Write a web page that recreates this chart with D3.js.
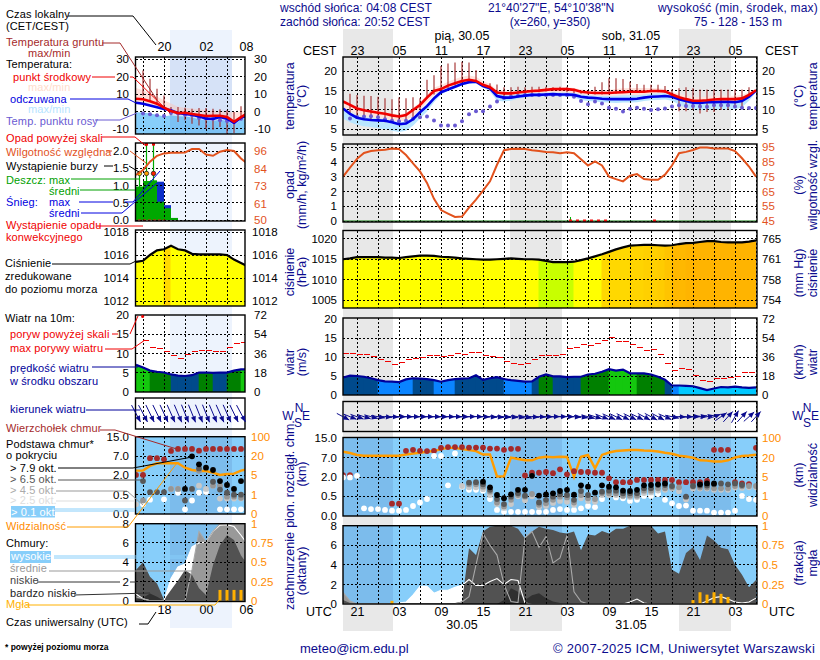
<!DOCTYPE html>
<html><head><meta charset="utf-8"><script src="https://cdn.jsdelivr.net/npm/d3@7"></script>
<style>html,body{margin:0;padding:0;background:#fff}svg{display:block}text{font-family:"Liberation Sans",Arial,sans-serif;font-size:11px}</style></head>
<body><svg id="c" width="820" height="660"></svg>
<script>
// ---------- hours / labels
const mainHourLabelsCEST=["23","05","11","17","23","05","11","17","23","05"];
const mainHourLabelsUTC=["21","03","09","15","21","03","09","15","21","03"];
const mainLabelHours=[2,8,14,20,26,32,38,44,50,56];
const leftHourLabelsCEST=["20","02","08"];
const leftHourLabelsUTC=["18","00","06"];
const leftLabelHours=[4,10,15.7];
// ---------- main panel: temperature
const tempMid=[12.2,11.3,10.4,9.9,9.6,9.3,9.0,8.6,8.3,8.7,
10.0,11.3,13.2,14.9,15.4,16.3,16.9,17.5,17.8,17.5,
16.5,15.9,14.5,14.3,14.3,14.5,14.7,14.9,15.0,15.2,
15.4,15.4,15.4,15.2,14.7,14.5,14.4,14.4,14.4,14.5,
14.6,14.7,14.7,14.7,14.9,14.9,14.8,14.0,13.3,12.8,
12.4,12.4,12.5,12.7,12.8,12.8,12.8,13.0,13.9,15.1];
const tempMidHi=[12.6,11.8,10.9,10.4,10.1,9.8,9.5,9.1,8.8,9.2,
10.6,11.9,14.0,15.8,16.4,17.3,18.0,18.6,18.9,18.6,
17.5,16.7,15.2,14.9,14.9,15.0,15.2,15.4,15.5,15.7,
15.9,15.9,15.9,15.7,15.3,15.1,15.0,15.0,15.2,15.4,
15.6,15.7,15.7,15.7,15.6,15.6,15.4,14.7,14.1,13.7,
13.3,13.3,13.4,13.6,13.7,13.7,13.7,13.9,14.6,15.4];
const tempMidLo=[10.8,9.8,9.0,8.6,8.3,8.0,7.7,7.3,7.0,7.3,
8.5,10.0,12.0,13.8,14.9,15.6,16.2,16.9,17.3,17.2,
16.0,15.2,13.8,13.5,13.4,13.7,13.9,14.1,14.1,14.2,
14.3,14.2,14.2,14.1,13.6,13.4,13.2,13.0,13.0,13.0,
13.0,13.0,13.1,13.4,13.6,13.7,13.8,13.5,12.6,11.8,
11.2,11.2,11.4,11.5,11.6,11.6,11.5,11.8,13.0,14.8];
const tempFeel=[10.4,9.0,8.0,7.6,7.4,7.3,7.2,6.8,6.3,6.5,
7.6,9.4,11.0,13.0,14.6,15.3,16.0,16.7,17.2,17.3,
16.2,15.6,13.6,13.2,13.2,13.5,13.7,13.9,13.9,14.0,
14.1,14.0,14.0,13.9,13.4,13.2,13.1,12.9,12.8,12.8,
12.8,12.8,12.9,13.2,13.4,13.5,13.6,13.4,12.8,12.3,
11.9,11.8,12.0,12.0,12.1,12.1,12.0,12.3,13.4,15.0];
const tempFeelHi=[10.9,9.4,8.4,8.1,7.9,7.8,7.6,7.3,6.8,7.0,
8.1,10.0,11.6,13.6,15.0,15.7,16.4,17.1,17.6,17.7,
16.7,16.2,14.2,13.8,13.8,14.1,14.3,14.4,14.4,14.5,
14.6,14.5,14.5,14.4,14.0,13.8,13.7,13.6,13.6,13.7,
13.8,13.8,13.8,14.0,14.2,14.3,14.3,14.0,13.3,12.8,
12.3,12.2,12.4,12.4,12.5,12.5,12.4,12.7,13.8,15.2];
const tempFeelLo=[7.8,6.8,6.2,5.8,5.6,5.3,5.0,4.6,4.3,4.6,
5.9,7.8,9.6,12.0,14.0,14.9,15.6,16.3,16.8,16.9,
15.8,14.8,12.4,12.2,12.4,12.9,13.2,13.5,13.4,13.5,
13.6,13.5,13.4,13.2,12.6,12.3,12.2,12.0,11.9,11.8,
11.9,11.9,12.0,12.3,12.5,12.6,12.7,12.4,11.4,10.5,
10.0,9.9,10.0,10.0,10.1,10.2,10.2,10.7,12.4,14.6];
const groundMax=[null,14.2,13.9,13.7,13.6,13.4,13.0,12.8,13.2,13.0,
13.3,13.0,17.8,19.0,21.4,22.0,22.3,22.5,22.3,20.3,
16.9,16.9,16.6,15.9,15.9,16.0,15.9,16.0,16.0,16.0,
15.9,16.0,16.0,15.5,15.0,15.0,16.0,17.2,18.2,18.2,
18.0,17.3,16.7,16.5,16.5,16.5,16.2,15.3,15.6,15.9,
15.6,15.3,15.3,15.3,15.3,15.3,15.3,15.3,15.9,null];
const groundMin=[null,8.7,8.3,7.5,7.5,7.2,6.8,6.6,6.5,7.0,
8.0,10.0,13.0,14.0,14.8,15.6,16.4,17.0,17.4,17.0,
16.0,15.0,14.0,13.6,13.6,14.0,14.2,14.4,14.6,14.8,
15.0,15.0,14.6,14.4,14.2,14.0,14.0,14.0,14.0,14.2,
14.4,14.4,14.4,14.4,14.6,14.6,14.4,13.0,9.7,9.7,
10.0,9.1,9.5,9.5,10.0,10.2,10.9,11.0,14.0,null];
const dewPoint=[null,7.8,8.2,8.3,8.4,8.1,7.6,7.2,7.1,7.2,
7.7,8.1,8.3,7.3,6.0,6.0,6.0,7.1,8.9,9.7,
9.7,10.9,12.2,13.1,13.5,13.7,13.9,13.9,13.9,13.9,
13.9,13.9,13.9,13.4,12.3,11.5,12.2,11.7,10.6,10.3,
9.6,10.3,10.6,10.3,10.0,10.2,10.4,10.9,11.2,11.0,
11.0,10.9,10.8,11.2,11.2,11.2,10.9,10.6,10.5,10.5];
// ---------- main panel: rain + humidity
const humidity=[75,81,87,91,92.3,92.8,93.2,93.9,93.7,89.6,
84,78.5,70.7,60,52.4,50,47.7,48,54,59.5,
65.5,71.8,83,92.8,93.7,93.9,93.7,92.8,92.3,91.6,
91.4,90.8,91.4,90.8,86.7,82.5,85.2,82.5,75,73.3,
71.8,75.6,76.7,73.3,72.9,72.9,76.3,82.5,90.8,91.7,
93,94.6,94.6,94,94,94,92.3,87.4,81.8,75];
const convectiveHours=[32,33,34,35,36,37,44];
const rainTraceHours=[32];
// ---------- main panel: pressure
const pressure=[1015,1015.2,1015.5,1015.5,1015.5,1015.5,1015.4,1015.4,1015.3,1015.5,
1015.7,1015.9,1015.9,1015.8,1015.6,1015.5,1015.4,1015.2,1015.1,1015,
1014.9,1014.9,1015,1015.1,1015.2,1015.1,1015,1015,1014.9,1014.6,
1014.3,1014.3,1014.3,1014.4,1014.8,1015.2,1015.7,1016.2,1016.8,1017.4,
1017.9,1018.3,1018.4,1018.5,1018.5,1018.4,1018.3,1018.4,1018.7,1018.9,
1019,1019.2,1019.4,1019.4,1019.2,1019.1,1019.1,1019.1,1019.3,1019.6];
const pressureFill=["#ffff00","#ffff00","#ffff00","#ffff00","#ffff00","#ffff00","#ffff00","#ffff00","#ffff00","#ffff00",
"#ffff00","#ffff00","#ffff00","#ffff00","#ffff00","#ffff00","#ffff00","#ffff00","#ffff00","#ffff00",
"#ffff00","#ffff00","#ffff00","#ffff00","#ffff00","#ffff00","#ffff00","#ffff00","#c8ff00","#c8ff00",
"#c8ff00","#c8ff00","#c8ff00","#ffff00","#ffff00","#ffff00","#ffff00","#ffd800","#ffd800","#ffd800",
"#ffd800","#ffd400","#ffd400","#ffd000","#ffd000","#ffcc00","#ffc400","#ffb800","#ffb800","#ffb400",
"#ffb400","#ffb400","#ffb400","#ffb400","#ffb400","#ffb400","#ffb400","#ffb400","#ffb400","#ffb400"];
// ---------- main panel: wind
const windSpeed=[4.6,5.1,5,4.8,4.4,3.9,3.6,3.5,3.4,4.1,
4.4,4.3,4.2,3.9,3.5,3.9,4.2,4.3,4.4,5.2,
4,4.4,4.7,4.2,3.9,3.7,3.5,3.6,4.8,5.4,
4.9,4.9,4.7,4.8,4.8,5.4,5.6,6.1,6.8,6.4,
6.7,5.7,5.7,5.7,5.4,4.8,4,2.5,2.5,2.4,
2.3,1.8,1.3,1.7,2.1,2,2.2,2,1.9,2];
const windGust=[11,11,10.7,10.7,10.2,9.4,8.8,8.1,8.6,9.4,
9.6,10,10.4,10.4,10.2,10.4,11,10.7,11.2,11.2,
10.4,10.2,9.9,8.9,8.4,8.1,8.4,9.4,10.4,10.4,
10.4,10.7,12.3,12.5,13.3,13,13.6,14.4,15.1,14.1,
14.1,13.3,12.5,11.8,12,10.7,8.4,6.5,7,6.8,
5.2,3.9,3.6,4.4,4.4,4.6,4.9,6,6,null];
const windClass=[1,1,1,1,1,2,2,2,2,2,
1,1,1,2,2,2,1,1,1,1,1,1,1,2,2,2,2,1,3,3,
1,1,1,1,3,3,3,3,4,4,
4,4,3,3,3,3,1,2,5,5,
5,5,5,5,5,5,5,5,5,5];
const windToDeg=[118,112,110,108,105,100,95,92,90,90,
90,90,90,90,90,90,90,90,88,90,
92,95,96,97,98,100,102,95,92,90,
88,88,90,95,100,104,108,112,114,116,
116,116,116,118,118,118,114,102,92,90,
86,82,78,70,55,42,30,42,48,42];
// ---------- main panel: cloud base (km)
const cloudTop=[2.5,2.5,null,null,null,null,null,0.31,0.31,9.8,
10.2,9.8,9.7,9.8,11,11.3,11.3,11.3,11.1,11.1,
11.1,10.7,10.7,10.2,10.6,10.6,2.4,3.1,3.1,3.3,
3,4,2.7,3.5,3.3,3.3,3.1,3.1,1.9,1.6,
1.6,1.6,1.77,1.77,1.77,1.77,1.77,1.77,1.6,1.6,
1.6,1.6,1.7,10.2,10.2,10.2,1.6,1.5,1.45,11];
const base79=[null,null,null,null,null,null,null,null,null,null,
null,null,null,null,null,null,null,null,null,null,
1.64,1.2,0.6,0.45,0.65,1,1,2.3,0.55,0.65,
0.73,0.91,1,0.63,1.35,1.25,0.78,1.35,1.25,1.2,
0.94,0.91,1,1.35,1.38,1.43,1.5,null,null,null,
null,1.43,1.5,1.5,null,null,null,null,null,null];
const base65=[null,null,null,null,null,null,null,null,null,null,
null,null,null,null,null,null,null,null,1.57,1.6,
1.43,1,0.43,0.3,0.49,0.73,0.55,null,0.34,0.41,
0.49,0.65,0.6,0.41,0.91,0.6,null,0.86,0.94,0.94,
0.73,0.73,0.73,1.12,1.12,1.38,1.38,1.3,null,0.49,
1.3,1.33,1.33,1.43,1.5,1.43,1.5,1.38,null,null];
const base45=[null,null,null,null,null,null,null,null,null,null,
null,null,null,null,null,null,null,null,1.43,1.43,
1.25,0.86,0.34,0.24,0.41,0.6,0.49,0.68,0.28,0.32,
0.41,0.49,0.47,0.34,0.6,0.45,0.43,0.73,0.73,0.73,
0.55,0.55,0.55,0.94,0.94,1.12,1.12,1.18,1.2,null,
1.25,1.18,1.18,1.12,1.12,1.12,1.3,1.28,1.3,1.3];
const base25=[null,null,null,null,null,null,null,null,null,null,
null,null,null,null,null,null,null,1.3,1.2,1.2,
1.05,0.6,0.3,0.2,0.3,0.5,0.4,0.5,0.22,0.25,
0.33,0.38,0.36,0.28,0.45,0.38,0.36,0.6,0.6,0.6,
0.5,0.48,0.48,0.75,0.8,0.95,1,1.1,0.9,0.42,
1.1,1.1,1.1,1,1,1,1.18,1.15,1.2,1.2];
const base01=[1.97,1.97,2.3,0.19,0.17,0.17,0.15,0.13,0.13,0.15,
0.25,0.34,0.43,7.7,7.7,1.35,8.7,1.25,1,1,
0.94,0.43,0.15,0.1,0.1,0.1,0.1,0.1,0.1,0.1,
0.15,0.17,0.15,0.15,0.19,0.25,0.22,0.43,0.73,0.47,
0.45,0.38,0.41,0.53,0.53,0.68,0.41,0.32,0.25,0.26,
0.13,0.13,0.13,0.08,0.08,0.08,0.13,0.53,0.43,0.41];
const visibility=[44,39,31,28,28,28,28,28,28,33,
37,40,44,47,55,60,60,55,51,47,
33,33,5.4,5.6,20.5,19,18,18,20,24,
22,24,23,5.1,24,31,11.7,31,41,47,
49,51,51,49,48,45,40,36,28,25,
20,18,17.7,17,17,18,21,27,29,32];
// ---------- main panel: clouds (oktas), fog (fraction)
const cloudHigh=[0,0,0,0,0,0,0,0,0.1,0.2,
0.9,1.8,1.8,1.1,1.4,1.4,1.7,1.9,2.5,1.9,
1.9,2.3,2.6,2,2.5,2.4,0.1,0,0,0,
0,0,0,0,0,0,0,0,0,0,
0,0.2,0.5,0.1,0,0,0,0,0,0,
0,0,0.3,0.65,0.75,0.5,0.2,0.1,0.2,0.6];
const cloudMid=[1.2,0.3,0,0,0,0,0,0,0,0,
0,0,0,0,0,0,0,0.2,0.75,4,
7.2,6,5,2,0.25,0.15,6.8,7.4,5.8,6.9,
4.2,4.7,7,1.25,0.25,0,0,0,0,0,
0,0,0,0,0,0,0,0,0,0,
0,0,0,0,0,0,0,0,0,0];
const cloudLow=[0.4,0.1,0.1,0.1,0.1,0.1,0.1,0.1,0.1,0.1,
0.1,0.1,0.1,0.1,0.1,0.1,0.1,0.25,5.7,5,
7.4,7.9,8,8,8,7.7,6.7,7.4,7.9,7.7,
7.55,7.3,7.2,7.4,5.5,7.1,7,7.45,7.2,7.7,
7.7,8,8,8,8,7.2,7.4,3.5,3.1,5.2,
5.8,4.5,7,6.5,5.75,5.6,4,3,1.7,2.45];
const cloudVeryLow=[0,0,0,0,0,0,0,0,0,0,
0,0,0,0,0,0,0,0,0,0,
0,0,0,0.4,1.6,1.25,0.4,0.9,1.1,0.6,
0.25,0.1,0,0,0,0,0,0,0,0,
0,0,0,0,0,0,0,0,0,0,
0,0,0,0,0,0,0,0,0,0];
const fog=[0,0,0,0,0,0,0,0.04,0,0,
0,0,0,0,0,0,0,0,0,0,
0,0,0,0,0,0,0,0,0,0,
0,0,0,0,0,0,0,0,0,0,
0,0,0,0,0,0,0,0,0,0,
0.05,0.15,0.12,0.15,0.13,0.09,0,0,0,0];
// ---------- left panel
const lTempMid=[7.3,7,5.8,4.4,2.1,0.2,-1,-0.8,-1.5,-2.1,-2.7,-2.5,-2.5,-3.3,-6,-3.3,-1];
const lTempFeel=[5,4.4,3.4,2.4,1.3,0.6,-1,-1.5,-1.9,-2.9,-4.2,-4.4,-3.3,-4.2,-6.7,-3.6,-2.7];
const lTempMidHi=[13.5,12.2,10.6,8.6,6.4,4.5,2.7,2.1,1.7,1.2,0.8,0.4,0.2,-0.2,-0.4,-0.2,0.4];
const lTempFeelHi=[-0.5,-0.7,-1.2,-2,-3,-2.2,-2.8,-3,-3.6,-4.5,-5.2,-5.6,-4.8,-5.6,-7.8,-4.8,-3.8];
const lTempFeelLo=[-14,-14,-14,-14,-14,-14,-14,-14,-14,-14,-14,-14,-14,-14,-14,-13,-12];
const lGroundMax=[null,23.6,18.8,13,9.2,2.5,2.5,2.1,1.5,1.9,1.9,1.5,1.2,0.6,-0.4,2.9,null];
const lGroundMin=[null,9.2,6.3,3.5,0.6,-2.3,-6.2,-5.2,-7.1,-8.1,-10,-10.6,-9,-12.9,-12.5,-5.2,null];
const lDew=[null,-1.3,-1.7,-2.3,-2.7,-1,-1.3,-1.9,-2.3,-3.8,-3.8,-4.2,-5.2,-5.6,-6.2,-4.2,null];
const lHumidity=[80,83.3,88.9,92.8,94.4,94.8,94.8,95,97.3,97.3,93.7,92.8,95.5,96.6,96,91,87.3];
const lRain=[0.97,1.13,1.15,0.53,0.34,0.06];
const lSnow=[0,0,0,1.11,0.43,0];
const lRainMaxHours=[0,1,2];
const lRainMax=[1.3,2.2,2.2];
const lThunderColors=["#ffe000","#ffa000","#ff2000"];
const lPressure=[1015.4,1015.5,1016,1016.4,1016.5,1016.8,1016.5,1016.4,1016.1,1016.05,1016.05,1016.05,1016.05,1016,1015.6,1015.3,1015];
const lWind=[7,6.3,5.5,5.2,5,4.5,4.2,4.1,4.3,5,5,4.9,5,5,5.5,5.8,5.8];
const lGust=[null,13.3,11.6,11.2,10.5,9.5,8.7,9.7,10.4,10.7,10.8,10.4,10.4,11.6,12.6,12.9,null];
const lWindClass=[4,4,3,3,3,1,1,1,1,3,3,1,1,3,3,4];
const lWindToDeg=[152,152,154,154,155,156,157,158,158,158,158,157,156,156,154,152];
const lTop=[2.1,2.1,6.5,6.5,6.2,9.2,10,10,10,9.3,10,10,10,10,10,10,10];
const lB79=[null,null,null,null,null,null,null,0.95,7,4.9,4,3.4,1.55,1.25,0.95,1.55,1.9];
const lB65=[null,1.55,0.7,0.7,0.7,null,null,0.35,0.95,3.8,null,1.5,0.9,0.65,0.5,0.5,null];
const lB45=[null,0.35,null,null,null,0.95,0.95,null,null,3.2,null,1.2,1.2,0.45,0.45,0.42,null];
const lB25=[0.25,null,null,null,null,0.95,0.95,null,null,1.2,0.95,1.2,0.4,0.4,0.4,0.4,null];
const lB01=[null,0.25,0.37,null,0.38,null,0.65,0.12,0.35,0.65,0.7,null,0.12,0.12,0.12,0.12,null];
const lVis=[8.7,8.7,12.4,14.5,14.5,14.5,14.5,11,9.2,8.4,8.4,7.1,5.3,6,6.3,8.7,10];
const lHigh=[0.7,0.2,0,0,0,2.3,3.5,3.8,5.6,6,6.1,7.2,7.85,7.9,7.7,6.8,5.8];
const lMid=[0.4,0.2,0,0,0,0,0,0,3.2,7.2,6.1,7.2,8,8,8,8,8];
const lLow=[3.2,4,2.5,1.8,0.1,1.1,2.1,3.2,2.7,1.3,0.6,3.7,5.8,6.8,6.3,4.7,3.7];
const lVeryLow=[0.1,0.3,0.75,0.4,0,0,0,0,0,0,0,0,0,0,0,0,0];
const lFog=[0,0,0,0,0,0,0,0,0,0,0,0,0.14,0.14,0.14,0.14,0];
// ---------- axis ticks
const tempTicks=[20,15,10,5];
const rainTicks=[5,4,3,2,1,0];
const humTicks=[95,85,75,65,55,45];
const pressTicks=[1020,1015,1010,1005];
const pressHgLabels=["765","761","758","754"];
const windTicks=[20,15,10,5,0];
const windKmhLabels=["72","54","36","18","0"];
const baseTicks=[15,7,2,0.5,0];
const baseLabels=["15.0","7.0","2.0","0.5","0.0"];
const visTicks=[100,20,5,1,0];
const visLabels=["100","20","5","1","0"];
const oktaTicks=[8,6,4,2,0];
const fogTicks=[1,0.75,0.5,0.25,0];
const fogLabels=["1","0.75","0.5","0.25","0"];
const lTempTicks=[30,20,10,0,-10];
const lRainTicks=[2,1.5,1,0.5,0];
const lRainLabels=["2.0","1.5","1.0","0.5","0.0"];
const lHumTicks=[96,84,73,61,50];
const lPressTicks=[1018,1016,1014,1012];

const NAVY="#0b0b8e",ORANGE="#ff8c00",HUM="#e2521d",SKY="#87cefa";
const windColors=["","#004a8c","#0a84ff","#008000","#14c80e","#00c8ff"];
const svg=d3.select("#c");
const defs=svg.append("defs");
let clipN=0;
const xMain=d3.scaleLinear().domain([0,59]).range([343,756]);
const xLeft=d3.scaleLinear().domain([0,16]).range([136,248]);
const mainCols={x:xMain,x0:343,x1:757,grid:d3.range(2,60,3)};
const leftCols={x:xLeft,x0:135.5,x1:245,grid:d3.range(1,16,3)};
const idx=a=>a.map((v,i)=>[i,v]);

// backgrounds
[[343,393],[510,562],[679,731]].forEach(([a,b])=>svg.append("rect").attr("x",a).attr("y",29).attr("width",b-a).attr("height",602).attr("fill","#e8e8e8"));
svg.append("rect").attr("x",170).attr("y",30).attr("width",62).attr("height",598).attr("fill","#edf3fd");

function panel(cols,top,bot,yTicks,y){
  const id="clip"+(clipN++);
  defs.append("clipPath").attr("id",id).append("rect").attr("x",cols.x0).attr("y",top).attr("width",cols.x1-cols.x0).attr("height",bot-top);
  const g=svg.append("g");
  const plot=g.append("g").attr("clip-path",`url(#${id})`);
  const p={g,plot,cols,top,bot,y,x:cols.x};
  p.finishBg=()=>{
    const gg=plot.append("g").attr("stroke","#000").attr("stroke-width",1).attr("stroke-dasharray","2,2").attr("shape-rendering","crispEdges");
    gg.selectAll("line.v").data(cols.grid).join("line").attr("class","v").attr("x1",d=>cols.x(d)).attr("x2",d=>cols.x(d)).attr("y1",top).attr("y2",bot);
    if(y) gg.selectAll("line.h").data(yTicks).join("line").attr("class","h").attr("x1",cols.x0).attr("x2",cols.x1).attr("y1",d=>y(d)).attr("y2",d=>y(d));
  };
  p.border=()=>{g.append("rect").attr("x",cols.x0).attr("y",top).attr("width",cols.x1-cols.x0).attr("height",bot-top).attr("fill","none").attr("stroke","#000").attr("stroke-width",1.4);};
  return p;
}
function area(p,hi,lo,fill){
  const a=d3.area().x((d,i)=>p.x(i)).y0((d,i)=>p.y(typeof lo==="number"?lo:lo[i])).y1(d=>p.y(d));
  p.plot.append("path").attr("d",a(hi)).attr("fill",fill);
}
function line(p,arr,col,w){
  const l=d3.line().defined(d=>d!==null).x((d,i)=>p.x(i)).y(d=>p.y(d));
  p.plot.append("path").attr("d",l(arr)).attr("fill","none").attr("stroke",col).attr("stroke-width",w);
}
function dots(p,arr,col,r){
  p.plot.append("g").selectAll("circle").data(idx(arr).filter(d=>d[1]!==null)).join("circle").attr("cx",d=>p.x(d[0])).attr("cy",d=>p.y(d[1])).attr("r",r).attr("fill",col);
}
function vbars(p,hi,lo,col,w){
  p.plot.append("g").selectAll("line").data(idx(hi).filter(d=>d[1]!==null)).join("line").attr("x1",d=>p.x(d[0])).attr("x2",d=>p.x(d[0])).attr("y1",d=>p.y(d[1])).attr("y2",d=>p.y(lo[d[0]])).attr("stroke",col).attr("stroke-width",w);
}
function axisY(scale,vals,labels,x,side,col){
  const ax=(side==="l"?d3.axisLeft(scale):d3.axisRight(scale)).tickValues(vals).tickSize(0).tickPadding(0).tickFormat((d,i)=>labels?labels[i]:d);
  const g=svg.append("g").attr("transform",`translate(${x},0)`).call(ax);
  g.select(".domain").remove();
  g.selectAll("text").attr("fill",col||"#000").style("font-size","11.5px").attr("font-family",null);
}
function axisX(scale,vals,labels,y,col){
  const ax=d3.axisTop(scale).tickValues(vals).tickSize(0).tickPadding(0).tickFormat((d,i)=>labels[i]);
  const g=svg.append("g").attr("transform",`translate(0,${y})`).call(ax);
  g.select(".domain").remove();
  g.selectAll("text").attr("fill",col||"#000").style("font-size","12.5px").attr("font-family",null).attr("dy",0);
}
function txt(s,x,y,col,o={}){
  const t=svg.append("text").attr("x",x).attr("y",y).attr("fill",col||"#000").text(s);
  if(o.anchor)t.attr("text-anchor",o.anchor);
  t.style("font-size",(o.size||11)+"px");
  if(o.ls)t.attr("letter-spacing",o.ls+"px");
  if(o.weight)t.attr("font-weight",o.weight);
  return t;
}
function vtxt(s,x,y,col,size){
  svg.append("text").attr("transform",`translate(${x},${y}) rotate(-90)`).attr("text-anchor","middle").attr("fill",col||NAVY).style("font-size",(size||12.5)+"px").text(s);
}
function lead(pts,col,w){
  svg.append("path").attr("d",d3.line()(pts)).attr("fill","none").attr("stroke",col).attr("stroke-width",w||1);
}

// ---- temperature
function drawTemp(cols,yS,top,bot,ticks,d){
  const p=panel(cols,top,bot,ticks,yS);
  area(p,d.midHi,d.midLo,"#ffe2dc");
  area(p,d.feelHi,d.feelLo,d.feelCol);
  if(d.tint) p.plot.append("rect").attr("x",170).attr("y",top).attr("width",62).attr("height",bot-top).attr("fill","#1050c0").attr("opacity",.1);
  p.finishBg();
  vbars(p,d.gMax,d.gMin,"#a02828",1.1);
  dots(p,d.dew,"#6a5ad2",2);
  line(p,d.feel,"#0000e6",2.6);
  line(p,d.mid,"#f00000",2.6);
  p.border();
}
const yT=d3.scaleLinear().domain([5,20]).range([129.3,71.3]);
drawTemp(mainCols,yT,57,135,tempTicks,{midHi:tempMidHi,midLo:tempMidLo,feelHi:tempFeelHi,feelLo:tempFeelLo,feelCol:"#b9e6ff",gMax:groundMax,gMin:groundMin,dew:dewPoint,feel:tempFeel,mid:tempMid});
axisY(yT,tempTicks,null,337,"l");axisY(yT,tempTicks,null,762,"r");
const yLT=d3.scaleLinear().domain([-10,30]).range([128.7,59.3]);
drawTemp(leftCols,yLT,57,134,lTempTicks,{midHi:lTempMidHi,midLo:lTempFeel,feelHi:lTempFeelHi,feelLo:lTempFeelLo,feelCol:SKY,tint:true,gMax:lGroundMax,gMin:lGroundMin,dew:lDew,feel:lTempFeel,mid:lTempMid});
axisY(yLT,lTempTicks,null,129,"l");axisY(yLT,lTempTicks,null,254,"r");

// ---- rain
const yR=d3.scaleLinear().domain([0,5]).range([221,147]);
const yH=d3.scaleLinear().domain([45,95]).range([221,147]);
{
  const p=panel(mainCols,144,222,rainTicks,yR);
  p.finishBg();
  p.plot.append("line").attr("x1",343).attr("x2",757).attr("y1",yR(0)).attr("y2",yR(0)).attr("stroke","#0a7a0a").attr("stroke-width",1);
  p.plot.selectAll("rect.t").data(rainTraceHours).join("rect").attr("class","t").attr("x",d=>xMain(d+.5)-.5).attr("y",yR(0)-4).attr("width",1).attr("height",4).attr("fill","#00b000");
  p.plot.append("g").selectAll("rect").data(convectiveHours).join("rect").attr("x",d=>xMain(d+.5)-1.5).attr("y",yR(0)-1.5).attr("width",3).attr("height",3).attr("fill","#f01010");
  p.y=yH;line(p,humidity,HUM,2);
  p.border();
}
axisY(yR,rainTicks,null,337,"l");axisY(yH,humTicks,null,762,"r",HUM);
const yLR=d3.scaleLinear().domain([0,2]).range([220,151]);
const yLH=d3.scaleLinear().domain([50,96]).range([220,151]);
{
  const p=panel(leftCols,143,221,lRainTicks,yLR);
  const bars=(arr,col)=>p.plot.append("g").selectAll("rect").data(idx(arr).filter(d=>d[1]>0)).join("rect").attr("x",d=>xLeft(d[0])).attr("y",d=>yLR(d[1])).attr("width",7).attr("height",d=>yLR(0)-yLR(d[1])).attr("fill",col);
  bars(lSnow,"#1030c8");bars(lRain,"#00a800");
  p.finishBg();
  p.plot.append("g").selectAll("line").data(lRainMaxHours).join("line").attr("x1",d=>xLeft(d+.5)).attr("x2",d=>xLeft(d+.5)).attr("y1",(d,i)=>yLR(lRainMax[i])).attr("y2",yLR(0.9)).attr("stroke","#00a800").attr("stroke-width",1.2);
  p.plot.append("g").selectAll("rect").data(lRainMaxHours.slice(1)).join("rect").attr("x",d=>xLeft(d+.5)-1.5).attr("y",yLR(2.2)-1.5).attr("width",3).attr("height",3).attr("fill","#f00000");
  p.plot.append("g").selectAll("circle").data(lRainMaxHours).join("circle").attr("cx",d=>xLeft(d+.5)).attr("cy",yLR(1.35)).attr("r",2.2).attr("fill",(d,i)=>lThunderColors[i]).attr("stroke","#222").attr("stroke-width",.8);
  p.plot.append("line").attr("x1",138).attr("x2",165).attr("y1",yLR(0)).attr("y2",yLR(0)).attr("stroke","#f01010").attr("stroke-width",1.2).attr("stroke-dasharray","3,2");
  p.y=yLH;line(p,lHumidity,HUM,2);
  p.border();
}
axisY(yLR,lRainTicks,lRainLabels,129,"l");axisY(yLH,lHumTicks,null,254,"r",HUM);

// ---- pressure
function drawPressure(cols,y,top,bot,ticks,vals,fills){
  const p=panel(cols,top,bot,ticks,y);
  const a=d3.area().x((d,i)=>p.x(i)).y0(bot).y1(d=>y(d));
  const cid="clipP"+(clipN++);
  defs.append("clipPath").attr("id",cid).append("path").attr("d",a(vals));
  const f=p.plot.append("g").attr("clip-path",`url(#${cid})`);
  const sc=(p.x(1)-p.x(0));
  f.selectAll("rect").data(fills).join("rect").attr("x",(d,i)=>p.x(i)-.5).attr("y",top).attr("width",sc+1).attr("height",bot-top).attr("fill",d=>d);
  p.finishBg();
  line(p,vals,"#000",2.2);
  p.border();
}
const yP=d3.scaleLinear().domain([1005,1020]).range([300.3,238.7]);
drawPressure(mainCols,yP,230.5,308,pressTicks,pressure,pressureFill);
axisY(yP,pressTicks,null,337,"l");axisY(yP,pressTicks,pressHgLabels,762,"r");
const yLP=d3.scaleLinear().domain([1012,1018]).range([301,232]);
drawPressure(leftCols,yLP,230,306,lPressTicks,lPressure,lPressure.map((d,i)=>i===4?"#ffd800":"#ffff00"));
axisY(yLP,lPressTicks,null,129,"l");axisY(yLP,lPressTicks,null,252,"r");

// ---- wind
function drawWind(cols,y,top,bot,ticks,speed,gust,cls){
  const p=panel(cols,top,bot,ticks,y);
  const a=d3.area().x((d,i)=>p.x(i)).y0(bot).y1(d=>y(d));
  const cid="clipW"+(clipN++);
  defs.append("clipPath").attr("id",cid).append("path").attr("d",a(speed));
  const f=p.plot.append("g").attr("clip-path",`url(#${cid})`);
  const sc=p.x(1)-p.x(0);
  f.selectAll("rect").data(cls).join("rect").attr("x",(d,i)=>p.x(i)-.3).attr("y",top).attr("width",sc+.6).attr("height",bot-top).attr("fill",d=>windColors[d]);
  p.finishBg();
  p.plot.append("g").attr("shape-rendering","crispEdges").selectAll("line").data(idx(gust).filter(d=>d[1]!==null)).join("line").attr("x1",d=>p.x(d[0])).attr("x2",d=>p.x(d[0]+1)-1).attr("y1",d=>y(d[1])).attr("y2",d=>y(d[1])).attr("stroke","#f00000").attr("stroke-width",1);
  line(p,speed,"#00009a",2.2);
  p.border();
  return p;
}
const yW=d3.scaleLinear().domain([0,20]).range([395,319]);
drawWind(mainCols,yW,318,395,[15,10,5],windSpeed,windGust,windClass);
axisY(yW,windTicks,null,337,"l");axisY(yW,windTicks,windKmhLabels,762,"r");
const yLW=d3.scaleLinear().domain([0,20]).range([391.7,315]);
drawWind(leftCols,yLW,315,392,[15,10,5],lWind,lGust,lWindClass);
axisY(yLW,windTicks,null,129,"l");axisY(yLW,windTicks,windKmhLabels,254,"r");
svg.append("circle").attr("cx",xLeft(.9)+.3).attr("cy",316.5).attr("r",1.5).attr("fill","#f00000");

// ---- wind direction
function drawDir(cols,top,bot,deg,len,cy){
  const p=panel(cols,top,bot,[],null);
  p.finishBg();
  p.border();
  const g=svg.append("g");
  deg.forEach((d,i)=>{
    const cx=p.x(i), a=d*Math.PI/180, dx=Math.sin(a), dy=-Math.cos(a);
    const x1=cx-dx*len/2,y1=cy-dy*len/2,x2=cx+dx*len/2,y2=cy+dy*len/2;
    g.append("line").attr("x1",x1).attr("y1",y1).attr("x2",x2).attr("y2",y2).attr("stroke",NAVY).attr("stroke-width",1);
    g.append("path").attr("d",`M${x2},${y2}L${x2-dx*6-dy*2.6},${y2-dy*6+dx*2.6}L${x2-dx*6+dy*2.6},${y2-dy*6-dx*2.6}Z`).attr("fill",NAVY);
  });
}
drawDir(mainCols,401.5,431.5,windToDeg,14,416.7);
drawDir(leftCols,398,429,lWindToDeg,19,413.5);

// ---- cloud base
function drawBase(cols,y,yV,top,bot,ticks,d,nights){
  const p=panel(cols,top,bot,ticks,y);
  p.plot.append("rect").attr("x",cols.x0).attr("y",top).attr("width",cols.x1-cols.x0).attr("height",bot-top).attr("fill",SKY);
  nights.forEach(([a,b])=>p.plot.append("rect").attr("x",a).attr("y",top).attr("width",b-a).attr("height",bot-top).attr("fill","#7cbcec"));
  p.finishBg();
  const y0=p.y;
  p.y=yV;line(p,d.vis,"#ff9c00",2.4);p.y=y0;
  dots(p,d.top,"#a52a2a",2.9);
  dots(p,d.b01,"#ffffff",2.9);
  dots(p,d.b25,"#c8c8c8",2.9);
  dots(p,d.b45,"#969696",2.9);
  dots(p,d.b65,"#585858",2.9);
  dots(p,d.b79,"#000000",2.9);
  p.border();
}
const baseDom=[0,0.5,2,7,15], visDom=[0,1,5,20,100];
const yB=d3.scaleLinear().domain(baseDom).range([515.7,496.3,477,457.7,438]);
const yV=d3.scaleLinear().domain(visDom).range([515.7,496.3,477,457.7,438]);
drawBase(mainCols,yB,yV,437.5,516,[7,2,0.5],{vis:visibility,top:cloudTop,b79:base79,b65:base65,b45:base45,b25:base25,b01:base01},[[343,393],[510,562],[679,731]]);
axisY(yB,baseTicks,baseLabels,337,"l");axisY(yV,visTicks,visLabels,762,"r",ORANGE);
const yLB=d3.scaleLinear().domain(baseDom).range([514,494.7,475.3,456.3,436.7]);
const yLV=d3.scaleLinear().domain(visDom).range([514,494.7,475.3,456.3,436.7]);
drawBase(leftCols,yLB,yLV,436.7,514,[7,2,0.5],{vis:lVis,top:lTop,b79:lB79,b65:lB65,b45:lB45,b25:lB25,b01:lB01},[[170,232]]);
axisY(yLB,baseTicks,baseLabels,129,"l");axisY(yLV,visTicks,visLabels,251,"r",ORANGE);

// ---- clouds
function drawCloud(cols,y,yFog,top,bot,ticks,d,nights){
  const p=panel(cols,top,bot,ticks,y);
  p.plot.append("rect").attr("x",cols.x0).attr("y",top).attr("width",cols.x1-cols.x0).attr("height",bot-top).attr("fill",SKY);
  nights.forEach(([a,b])=>p.plot.append("rect").attr("x",a).attr("y",top).attr("width",b-a).attr("height",bot-top).attr("fill","#7cbcec"));
  area(p,d.high,0,"#ffffff");
  area(p,d.mid,0,"#999999");
  area(p,d.low,0,"#525252");
  area(p,d.vlow,0,"#303030");
  line(p,d.high,"#ffffff",1.1);
  line(p,d.mid,"#a8a8a8",1.1);
  p.finishBg();
  const bw=3;
  p.plot.append("g").selectAll("rect").data(idx(d.fog).filter(e=>e[1]>0)).join("rect").attr("x",e=>p.x(e[0])-bw/2).attr("width",bw).attr("y",e=>yFog(e[1])).attr("height",e=>yFog(0)-yFog(e[1])).attr("fill","#ffb000");
  p.border();
}
const yC=d3.scaleLinear().domain([0,8]).range([604,525.7]);
const yF=d3.scaleLinear().domain([0,1]).range([604,525.7]);
drawCloud(mainCols,yC,yF,525.7,604,[6,4,2],{high:cloudHigh,mid:cloudMid,low:cloudLow,vlow:cloudVeryLow,fog:fog},[[343,393],[510,562],[679,731]]);
axisY(yC,oktaTicks,null,337,"l");axisY(yF,fogTicks,fogLabels,762,"r",ORANGE);
const yLC=d3.scaleLinear().domain([0,8]).range([600.7,523.7]);
const yLF=d3.scaleLinear().domain([0,1]).range([600.7,523.7]);
drawCloud(leftCols,yLC,yLF,523.7,601.5,[6,4,2],{high:lHigh,mid:lMid,low:lLow,vlow:lVeryLow,fog:lFog},[[170,232]]);
axisY(yLC,oktaTicks,null,129,"l");axisY(yLF,fogTicks,fogLabels,251,"r",ORANGE);

// ---- time axes
axisX(xMain,mainLabelHours,mainHourLabelsCEST,55);
axisX(xMain,mainLabelHours,mainHourLabelsUTC,616);
axisX(xLeft,leftLabelHours,leftHourLabelsCEST,51);
axisX(xLeft,leftLabelHours,leftHourLabelsUTC,614);
txt("CEST",303,55,"#000",{size:12.5});txt("CEST",765,55,"#000",{size:12.5});
txt("UTC",306,616,"#000",{size:12.5});txt("UTC",769,616,"#000",{size:12.5});
txt("pią, 30.05",462,40,"#000",{anchor:"middle",size:12.5});
txt("sob, 31.05",631,40,"#000",{anchor:"middle",size:12.5});
txt("30.05",462,629,"#000",{anchor:"middle",size:12.5});
txt("31.05",631,629,"#000",{anchor:"middle",size:12.5});

// ---- header / footer
txt("wschód słońca: 04:08 CEST",280,12,NAVY,{size:12,ls:.05});
txt("zachód słońca: 20:52 CEST",280,26,NAVY,{size:12,ls:.05});
txt("21°40'27\"E, 54°10'38\"N",551,12,NAVY,{anchor:"middle",size:12});
txt("(x=260, y=350)",550,26,NAVY,{anchor:"middle",size:12});
txt("wysokość (min, środek, max)",818,12,NAVY,{anchor:"end",size:12,ls:.2});
txt("75 - 128 - 153 m",738,26,NAVY,{anchor:"middle",size:12});
txt("meteo@icm.edu.pl",300,653,NAVY,{size:13});
txt("© 2007-2025 ICM, Uniwersytet Warszawski",553,653,NAVY,{size:13,ls:.3});
txt("* powyżej poziomu morza",5,650,"#000",{size:8.5,weight:"bold"});

// ---- rotated titles
[["temperatura","(°C)",96],["opad","(mm/h, kg/m²/h)",185],["ciśnienie","(hPa)",272],["wiatr","(m/s)",362],["pion. rozciągł. chm.","(km)",474],["zachmurzenie","(oktanty)",571]].forEach(([a,b,y])=>{vtxt(a,294,y);vtxt(b,306,y);});
[["(°C)","temperatura",96],["(%)","wilgotność wzgl.",185],["(mm Hg)","ciśnienie",273],["(km/h)","wiatr",362],["(km)","widzialność",475],["(frakcja)","mgła",563]].forEach(([a,b,y])=>{vtxt(a,803,y);vtxt(b,817,y);});
[[288,420],[299,412],[306,420],[298,427]].forEach((p,i)=>txt(["W","N","E","S"][i],p[0],p[1],NAVY,{anchor:"middle",size:12}));
[[798,420],[807,412],[815,420],[807,427]].forEach((p,i)=>txt(["W","N","E","S"][i],p[0],p[1],NAVY,{anchor:"middle",size:12}));

// ---- left annotations
const BR="#a52a2a",RED="#f00000",BL="#0000e0",GR="#00a000",DP="#6a5ad2";
[["Czas lokalny",6,18,"#000"],["(CET/CEST)",6,30,"#000"],["Temperatura gruntu",6,46,BR],["max/min",28,57,BR],
["Temperatura:",6,68,"#000"],["punkt środkowy",13,81,RED],["max/min",28,91,"#ffdccc"],["odczuwana",10,103,BL],["max/min",28,113,"#b4e4ff"],
["Temp. punktu rosy",6,125,DP],["Opad powyżej skali",6,142,RED],["Wilgotność względna",6,156,HUM],["Wystąpienie burzy",6,170,"#000"],
["Deszcz:",6,184,GR],["max",49,184,GR],["średni",49,195,GR],["Śnieg:",6,206,BL],["max",49,206,BL],["średni",49,217,BL],
["Wystąpienie opadu",6,229,RED],["konwekcyjnego",6,241,RED],["Ciśnienie",5,267,"#000"],["zredukowane",5,280,"#000"],["do poziomu morza",5,293,"#000"],
["Wiatr na 10m:",5,322,"#000"],["poryw powyżej skali",10,338,RED],["max porywy wiatru",10,352,RED],["prędkość wiatru",10,372,"#00009a"],["w środku obszaru",10,385,"#00009a"],
["kierunek wiatru",10,413,"#00009a"],["Wierzchołek chmur",6,432,BR],["Podstawa chmur*",6,448,"#000"],["o pokryciu",6,459,"#000"],
["> 7.9 okt.",10,472,"#000"],["> 6.5 okt.",10,483,"#555"],["> 4.5 okt.",10,494,"#aaa"],["> 2.5 okt.",10,504,"#ddd"],
["Widzialność",6,530,"#ff8c00"],["Chmury:",6,547,"#000"],["średnie",10,572,"#999"],["niskie",10,584,"#444"],["bardzo niskie",10,597,"#222"],["Mgła",6,608,"#ffb000"],
["Czas uniwersalny (UTC)",6,626,"#000"]].forEach(d=>txt(d[0],d[1],d[2],d[3],{ls:.12}));
svg.append("rect").attr("x",11).attr("y",506).attr("width",44).attr("height",11.5).attr("fill",SKY);
txt("> 0.1 okt.",11,515.5,"#fff",{ls:.12});
svg.append("rect").attr("x",10).attr("y",551).attr("width",41).attr("height",12).attr("fill",SKY);
txt("wysokie",11,560,"#fff",{ls:.12});

// ---- leader lines
lead([[68,16],[133,16],[156,45]],"#000");
lead([[102,43],[120,43],[157,100]],BR);
lead([[92,77],[115,77]],RED);lead([[130,77],[133,77],[170,113]],RED);
lead([[70,99],[128,99],[136,103]],BL);
lead([[95,120],[120,120],[137,113]],DP);
lead([[102,137],[135,137],[146,146]],RED);
lead([[106,151],[112,151]],HUM);lead([[130,151],[146,163]],HUM);
lead([[104,166],[113,166]],"#000");lead([[129,166],[139,172]],"#000");
lead([[71,179],[139,179]],GR);
lead([[80,190],[135,190]],GR);
lead([[79,202],[113,202]],BL);lead([[125,202],[133,202],[160,171]],BL);
lead([[81,213],[122,213],[157,183]],BL);
lead([[97,226],[143,226]],RED);
lead([[52,264],[130,264],[136,261]],"#000");
lead([[112,334],[118,334]],RED);lead([[130,334],[138,316]],RED);
lead([[105,349],[132,349],[145,340]],RED);
lead([[92,367],[138,367]],"#00009a");
lead([[86,410],[140,410]],"#00009a");
lead([[100,430],[115,430],[180,450]],BR);
lead([[58,468],[133,468],[192,457]],"#000");
lead([[58,480],[143,480]],"#555");
lead([[56,491],[127,491],[143,505]],"#999");
lead([[56,501],[135,501]],"#ddd");
lead([[55,509],[135,509]],SKY);lead([[55,511],[135,511]],SKY);
lead([[67,527],[128,527],[177,463]],"#ff9c00");
lead([[54,556],[187,556]],SKY);lead([[54,558],[187,558]],SKY);
lead([[49,571],[193,571]],"#999");
lead([[37,582],[120,582]],"#333");lead([[130,582],[136,582]],"#333");
lead([[74,595],[150,593]],"#333");
lead([[26,605],[215,605],[219,600]],"#ffb000");
lead([[139,624],[148,624],[156,612]],"#000");
</script></body></html>
